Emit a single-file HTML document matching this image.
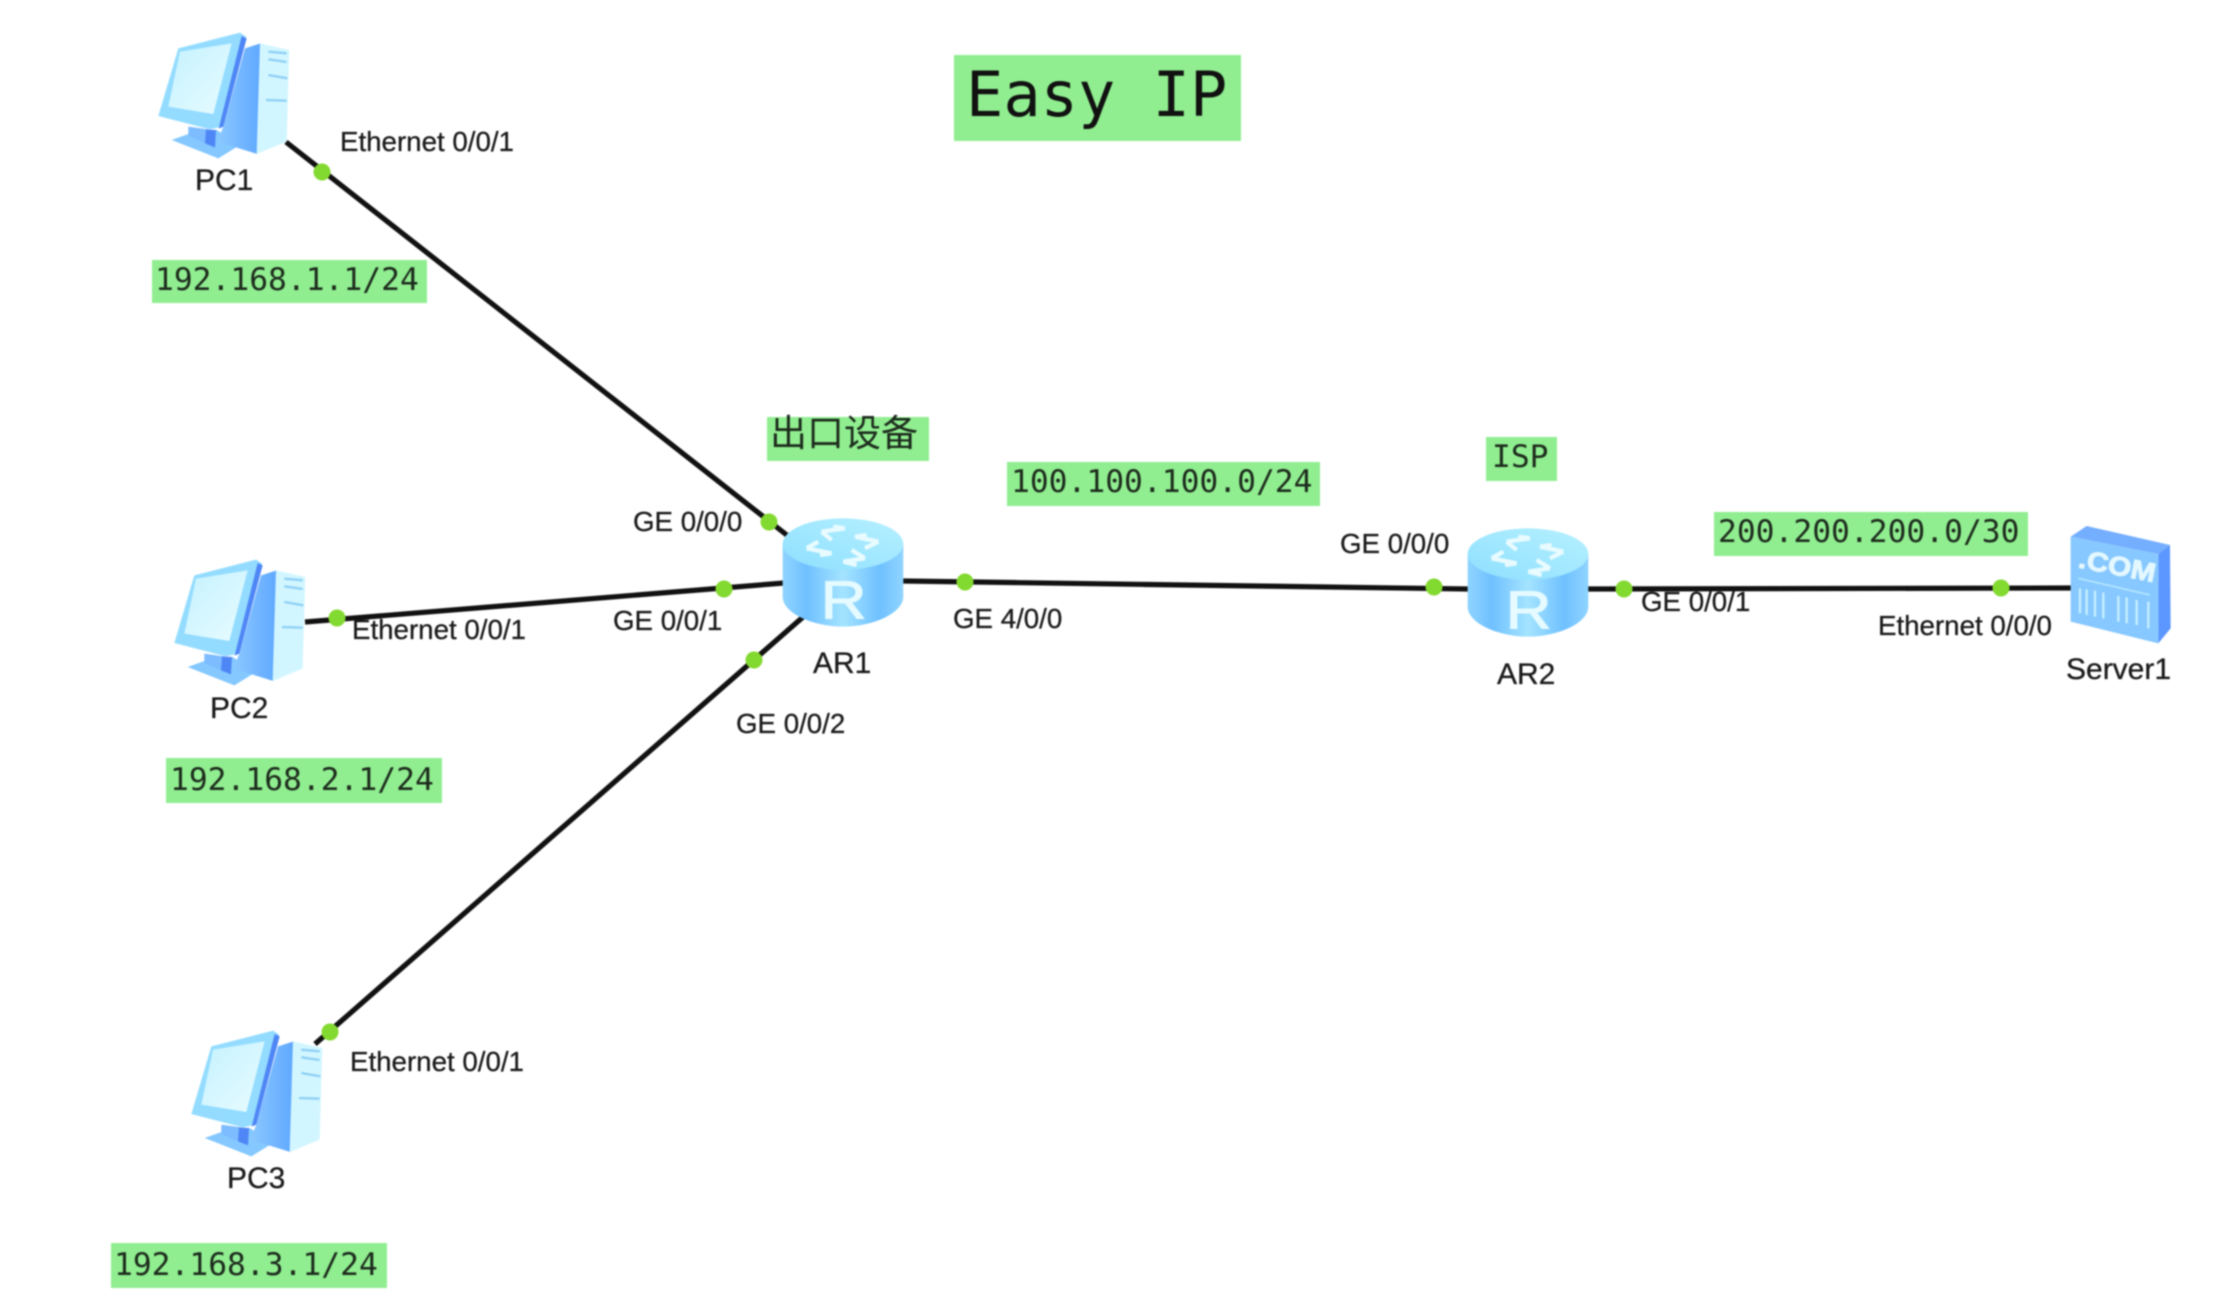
<!DOCTYPE html>
<html>
<head>
<meta charset="utf-8">
<style>
html,body{margin:0;padding:0;background:#fff;width:2228px;height:1300px;overflow:hidden}
svg{display:block;filter:blur(0.9px)}
.l{font-family:"Liberation Sans",sans-serif;font-size:27.7px;fill:#1a1a1a;stroke:#1a1a1a;stroke-width:.3px}
.n{font-family:"Liberation Sans",sans-serif;font-size:30px;fill:#1a1a1a;stroke:#1a1a1a;stroke-width:.3px}
.m{font-family:"DejaVu Sans Mono",monospace;font-size:31.3px;fill:#1d2b1d}
</style>
</head>
<body>
<svg width="2228" height="1300" viewBox="0 0 2228 1300" xmlns="http://www.w3.org/2000/svg">
<defs>
<linearGradient id="rb" x1="0" x2="1" y1="0" y2="0">
<stop offset="0" stop-color="#8fd4ff"/><stop offset=".2" stop-color="#6fc0ff"/><stop offset=".5" stop-color="#a4e4ff"/><stop offset=".8" stop-color="#6fc0ff"/><stop offset="1" stop-color="#8fd4ff"/>
</linearGradient>
<linearGradient id="rt" x1="0" x2="1" y1="1" y2="0">
<stop offset="0" stop-color="#8edfff"/><stop offset="1" stop-color="#b5f0ff"/>
</linearGradient>
<linearGradient id="sc" x1="0" x2="1" y1="0" y2="1">
<stop offset="0" stop-color="#c4f2ff"/><stop offset="1" stop-color="#e8fbff"/>
</linearGradient>
<linearGradient id="ts" x1="0" x2="1" y1="0" y2="0">
<stop offset="0" stop-color="#8cc8ff"/><stop offset="1" stop-color="#5fa8ff"/>
</linearGradient>
<g id="pc">
<polygon points="125,390 175,372 260,360 330,405 265,445" fill="#84c8ff"/>
<polygon points="175,350 235,358 225,400 175,378" fill="#7dbcff"/>
<polygon points="228,358 258,360 255,412 225,400" fill="#4f86f5"/>
<polygon points="345,115 392,100 382,432 262,395 280,350" fill="url(#ts)"/>
<polygon points="390,100 478,120 470,395 380,432" fill="#d2f6ff"/>
<polygon points="145,115 330,68 348,80 275,350 240,358 85,318" fill="#93dcff"/>
<polygon points="150,125 305,100 250,312 115,290" fill="url(#sc)"/>
<polygon points="335,78 350,85 280,350 266,356" fill="#4f86f5"/>
<path d="M415,125L470,130M415,148L470,156M415,195L472,205M408,270L470,272" stroke="#8fd0f5" stroke-width="7" fill="none"/>
</g>
<g id="router">
<path d="M548,432V590C548,640 640,680 729,680C818,680 910,640 910,590V432Z" fill="url(#rb)"/>
<ellipse cx="729" cy="432" rx="181" ry="77" fill="url(#rt)"/>
<g fill="none" stroke="#e8fbff" stroke-width="13">
<path d="M665,395L735,385M665,395L695,420M735,385L700,380"/>
<path d="M765,410L835,425M835,425L795,445M765,410L800,405"/>
<path d="M620,445L695,460M620,445L655,425M695,460L660,465"/>
<path d="M730,485L795,475M730,485L770,495M795,475L755,450"/>
</g>
<text transform="translate(662,655) scale(1.18,1)" font-family="Liberation Sans,sans-serif" font-size="162" fill="#e6fbff" stroke="#e6fbff" stroke-width="3">R</text>
</g>
</defs>

<!-- links -->
<g stroke="#111" stroke-width="5.2" fill="none">
<line x1="286" y1="142" x2="788" y2="536"/>
<line x1="305" y1="622" x2="784" y2="583"/>
<line x1="803" y1="617" x2="315" y2="1044"/>
<line x1="903" y1="581" x2="1468" y2="589"/>
<line x1="1587" y1="589" x2="2071" y2="588"/>
</g>

<!-- PCs -->
<use href="#pc" transform="translate(130,10) scale(.3333)"/>
<use href="#pc" transform="translate(146,537) scale(.3333)"/>
<use href="#pc" transform="translate(163,1008) scale(.3333)"/>

<!-- Routers -->
<use href="#router" transform="translate(600,400) scale(.3333)"/>
<use href="#router" transform="translate(1285,410) scale(.3333)"/>

<!-- Server -->
<g transform="translate(1900,480) scale(.3333)">
<polygon points="512,170 560,138 810,195 775,222" fill="#74aeff"/>
<polygon points="775,222 810,195 812,445 775,490" fill="#5c96ff"/>
<polygon points="512,170 775,222 775,490 512,425" fill="#86c8ff"/>
<text transform="translate(532,262) rotate(11) scale(1.12,1)" font-family="Liberation Sans,sans-serif" font-weight="bold" font-size="80" fill="#e4f8ff" stroke="#e4f8ff" stroke-width="3">.COM</text>
<path d="M535,295L750,345" stroke="#b4e6ff" stroke-width="5" fill="none"/>
<path d="M540,325V400M560,328V405M585,332V410M610,338V415M655,348V425M680,352V430M710,360V435M745,365V445" stroke="#c6efff" stroke-width="7" fill="none"/>
</g>

<!-- green dots -->
<g fill="#82d92f">
<circle cx="322" cy="172" r="8.5"/>
<circle cx="769" cy="522" r="8.5"/>
<circle cx="337" cy="618" r="8.5"/>
<circle cx="724" cy="589" r="8.5"/>
<circle cx="754" cy="660" r="8.5"/>
<circle cx="330" cy="1032" r="8.5"/>
<circle cx="965" cy="582" r="8.5"/>
<circle cx="1434" cy="587" r="8.5"/>
<circle cx="1624" cy="589" r="8.5"/>
<circle cx="2001" cy="588" r="8.5"/>
</g>

<!-- green label boxes -->
<g fill="#90ee90">
<rect x="954" y="55" width="287" height="86"/>
<rect x="152" y="260" width="275" height="43"/>
<rect x="166" y="758" width="276" height="45"/>
<rect x="111" y="1243" width="276" height="45"/>
<rect x="767" y="417" width="162" height="44"/>
<rect x="1007" y="462" width="313" height="44"/>
<rect x="1486" y="437" width="71" height="44"/>
<rect x="1714" y="512" width="314" height="44"/>
</g>

<text x="966" y="116" font-family="DejaVu Sans Mono,monospace" font-size="62" fill="#111">Easy IP</text>
<text class="m" x="155" y="290">192.168.1.1/24</text>
<text class="m" x="170" y="790">192.168.2.1/24</text>
<text class="m" x="114" y="1275">192.168.3.1/24</text>
<text class="m" x="1011" y="492">100.100.100.0/24</text>
<text class="m" x="1492" y="467">ISP</text>
<text class="m" x="1718" y="542">200.200.200.0/30</text>
<text x="770" y="446" font-family="Liberation Sans,'Noto Sans CJK SC',sans-serif" font-size="37" fill="#1d2b1d">出口设备</text>

<!-- port labels -->
<text class="l" x="340" y="151">Ethernet 0/0/1</text>
<text class="l" x="352" y="639">Ethernet 0/0/1</text>
<text class="l" x="350" y="1071">Ethernet 0/0/1</text>
<text class="l" x="633" y="531">GE 0/0/0</text>
<text class="l" x="613" y="630">GE 0/0/1</text>
<text class="l" x="736" y="733">GE 0/0/2</text>
<text class="l" x="953" y="628">GE 4/0/0</text>
<text class="l" x="1340" y="553">GE 0/0/0</text>
<text class="l" x="1641" y="611">GE 0/0/1</text>
<text class="l" x="1878" y="635">Ethernet 0/0/0</text>

<!-- node labels -->
<text class="n" x="195" y="190">PC1</text>
<text class="n" x="210" y="718">PC2</text>
<text class="n" x="227" y="1188">PC3</text>
<text class="n" x="813" y="673">AR1</text>
<text class="n" x="1497" y="684">AR2</text>
<text class="n" x="2066" y="679">Server1</text>
</svg>
</body>
</html>
